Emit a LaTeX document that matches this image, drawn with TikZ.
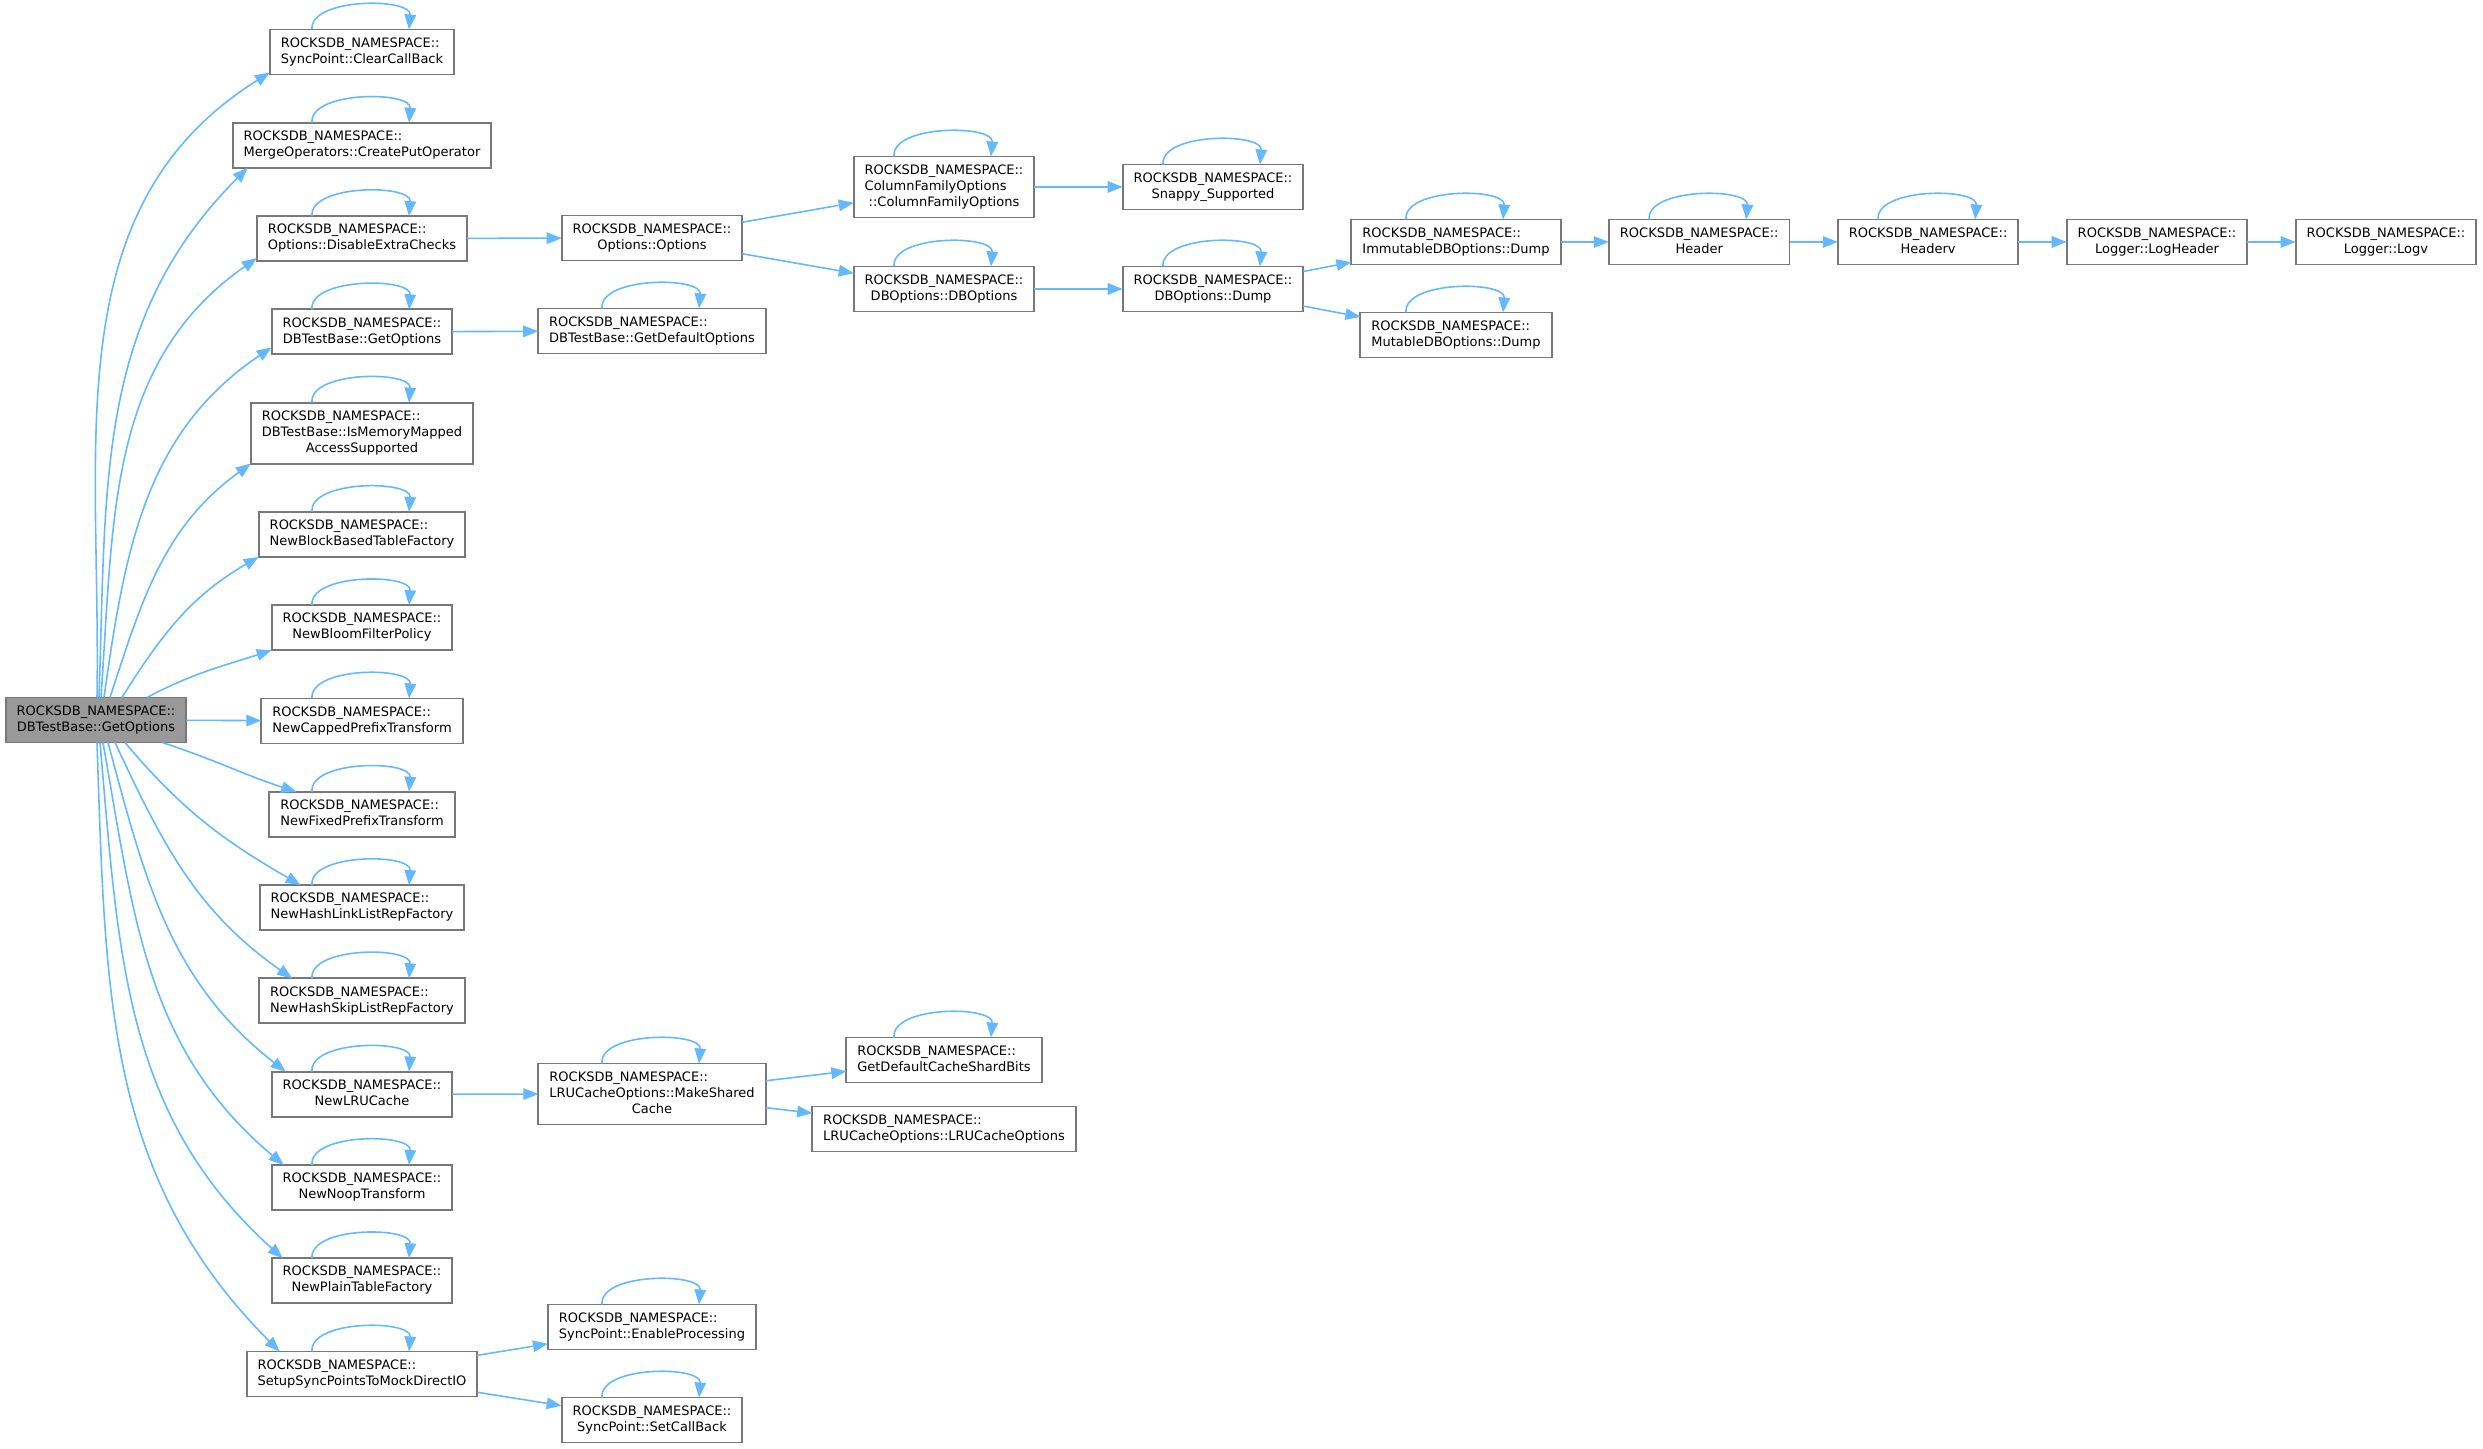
\documentclass[tikz,border=0pt]{standalone}
\usepackage{fontspec}
\newfontfamily\dvsans{DejaVu Sans}
\usepackage{tikz}
\usetikzlibrary{arrows.meta, positioning}

\definecolor{edgeblue}{HTML}{63B8FF}
\definecolor{boxline}{HTML}{787878}
\definecolor{rootfill}{HTML}{999999}

% first lines left, last line centred (doxygen style label)
\newcommand{\fnlabel}[2]{\begin{tabular}{@{}l@{}}#1\\\multicolumn{1}{@{}c@{}}{#2}\end{tabular}}
\newcommand{\selfcall}[1]{\path [line] ([xshift=-5mm]#1.north) to[out=95, in=85, looseness=0.85] ([xshift=4.7mm]#1.north);}

\begin{document}
\begin{tikzpicture}[x=0.1mm, y=-0.1mm, node distance=4.83mm]
    \tikzstyle{fn} = [rectangle, draw=boxline, fill=white, line width=0.55pt, outer sep=0pt, inner xsep=1.1mm, inner ysep=1.85pt, font=\dvsans\fontsize{3.7}{4.55}\selectfont]
    \tikzstyle{fnroot} = [fn, fill=rootfill]
    \tikzstyle{line} = [draw=edgeblue, line width=0.45pt, -{Triangle[length=1.5mm, width=1.15mm]}]

    \useasboundingbox (0,0) rectangle (2483,1449);

    \node [fnroot] (root) at (96,720) {\fnlabel{ROCKSDB\_NAMESPACE::}{DBTestBase::GetOptions}};

    % direct callees
    \node [fn] (clear) at (362,52) {\fnlabel{ROCKSDB\_NAMESPACE::}{SyncPoint::ClearCallBack}};
    \node [fn, below=of clear] (cput) {\fnlabel{ROCKSDB\_NAMESPACE::}{MergeOperators::CreatePutOperator}};
    \node [fn, below=of cput] (disable) {\fnlabel{ROCKSDB\_NAMESPACE::}{Options::DisableExtraChecks}};
    \node [fn, below=of disable] (gopt) {\fnlabel{ROCKSDB\_NAMESPACE::}{DBTestBase::GetOptions}};
    \node [fn, below=of gopt] (ismem) {\fnlabel{ROCKSDB\_NAMESPACE::\\DBTestBase::IsMemoryMapped}{AccessSupported}};
    \node [fn, below=of ismem] (newblock) {\fnlabel{ROCKSDB\_NAMESPACE::}{NewBlockBasedTableFactory}};
    \node [fn, below=of newblock] (bloom) {\fnlabel{ROCKSDB\_NAMESPACE::}{NewBloomFilterPolicy}};
    \node [fn, below=of bloom] (capped) {\fnlabel{ROCKSDB\_NAMESPACE::}{NewCappedPrefixTransform}};
    \node [fn, below=of capped] (fixed) {\fnlabel{ROCKSDB\_NAMESPACE::}{NewFixedPrefixTransform}};
    \node [fn, below=of fixed] (hlink) {\fnlabel{ROCKSDB\_NAMESPACE::}{NewHashLinkListRepFactory}};
    \node [fn, below=of hlink] (hskip) {\fnlabel{ROCKSDB\_NAMESPACE::}{NewHashSkipListRepFactory}};
    \node [fn, below=of hskip] (lru) {\fnlabel{ROCKSDB\_NAMESPACE::}{NewLRUCache}};
    \node [fn, below=of lru] (noop) {\fnlabel{ROCKSDB\_NAMESPACE::}{NewNoopTransform}};
    \node [fn, below=of noop] (plain) {\fnlabel{ROCKSDB\_NAMESPACE::}{NewPlainTableFactory}};
    \node [fn, below=of plain] (setup) {\fnlabel{ROCKSDB\_NAMESPACE::}{SetupSyncPointsToMockDirectIO}};

    % second level
    \node [fn] (options) at (652,238) {\fnlabel{ROCKSDB\_NAMESPACE::}{Options::Options}};
    \node [fn] (getdef) at (652,331) {\fnlabel{ROCKSDB\_NAMESPACE::}{DBTestBase::GetDefaultOptions}};
    \node [fn] (mkshared) at (652,1094) {\fnlabel{ROCKSDB\_NAMESPACE::\\LRUCacheOptions::MakeShared}{Cache}};
    \node [fn] (enable) at (652,1327) {\fnlabel{ROCKSDB\_NAMESPACE::}{SyncPoint::EnableProcessing}};
    \node [fn] (setcb) at (652,1420) {\fnlabel{ROCKSDB\_NAMESPACE::}{SyncPoint::SetCallBack}};

    \node [fn] (cfo) at (944,187) {\fnlabel{ROCKSDB\_NAMESPACE::\\ColumnFamilyOptions}{::ColumnFamilyOptions}};
    \node [fn] (dbo) at (944,289) {\fnlabel{ROCKSDB\_NAMESPACE::}{DBOptions::DBOptions}};
    \node [fn] (shard) at (944,1060) {\fnlabel{ROCKSDB\_NAMESPACE::}{GetDefaultCacheShardBits}};
    \node [fn] (lruopt) at (944,1129) {\fnlabel{ROCKSDB\_NAMESPACE::}{LRUCacheOptions::LRUCacheOptions}};

    \node [fn] (snappy) at (1213,187) {\fnlabel{ROCKSDB\_NAMESPACE::}{Snappy\_Supported}};
    \node [fn] (dbdump) at (1213,289) {\fnlabel{ROCKSDB\_NAMESPACE::}{DBOptions::Dump}};

    \node [fn] (immut) at (1456,242) {\fnlabel{ROCKSDB\_NAMESPACE::}{ImmutableDBOptions::Dump}};
    \node [fn] (mutable) at (1456,335) {\fnlabel{ROCKSDB\_NAMESPACE::}{MutableDBOptions::Dump}};
    \node [fn, right=of immut] (header) {\fnlabel{ROCKSDB\_NAMESPACE::}{Header}};
    \node [fn, right=of header] (headerv) {\fnlabel{ROCKSDB\_NAMESPACE::}{Headerv}};
    \node [fn, right=of headerv] (loghdr) {\fnlabel{ROCKSDB\_NAMESPACE::}{Logger::LogHeader}};
    \node [fn, right=of loghdr] (logv) {\fnlabel{ROCKSDB\_NAMESPACE::}{Logger::Logv}};

    % calls from the root
    \path [line] ([xshift=0.1mm]root.north) to[out=89, in=212] ([yshift=0.2mm]clear.south west);
    \path [line] ([xshift=0.3mm]root.north) to[out=88, in=225] ([xshift=1.5mm]cput.south west);
    \path [line] ([xshift=0.5mm]root.north) to[out=86, in=215] ([yshift=0.3mm]disable.south west);
    \path [line] ([xshift=0.8mm]root.north) to[out=82, in=214] ([yshift=0.7mm]gopt.south west);
    \path [line] ([xshift=1.4mm]root.north) to[out=72, in=216] (ismem.south west);
    \path [line] ([xshift=2.6mm]root.north) to[out=58, in=210] (newblock.south west);
    \path [line] ([xshift=5.1mm]root.north) to[out=28, in=198] (bloom.south west);
    \path [line] (root) -- (capped);
    \path [line] ([xshift=6.6mm]root.south) to[out=-18, in=162] ([xshift=2.7mm]fixed.north west);
    \path [line] ([xshift=2.9mm]root.south) to[out=-50, in=150] ([xshift=4.1mm]hlink.north west);
    \path [line] ([xshift=1.9mm]root.south) to[out=-65, in=145] ([xshift=3.3mm]hskip.north west);
    \path [line] ([xshift=1.2mm]root.south) to[out=-75, in=142] ([xshift=1.4mm]lru.north west);
    \path [line] ([xshift=0.7mm]root.south) to[out=-80, in=140] ([xshift=1.2mm]noop.north west);
    \path [line] ([xshift=0.4mm]root.south) to[out=-85, in=138] ([xshift=1.1mm]plain.north west);
    \path [line] ([xshift=0.1mm]root.south) to[out=-88, in=135] ([xshift=3.3mm]setup.north west);

    % deeper calls
    \path [line] (disable) -- (options);
    \path [line] (gopt) -- (getdef);
    \path [line] (options) -- (cfo);
    \path [line] (options) -- (dbo);
    \path [line] (cfo) -- (snappy);
    \path [line] (dbo) -- (dbdump);
    \path [line] (dbdump) -- (immut);
    \path [line] (dbdump) -- (mutable);
    \path [line] (immut) -- (header);
    \path [line] (header) -- (headerv);
    \path [line] (headerv) -- (loghdr);
    \path [line] (loghdr) -- (logv);
    \path [line] (lru) -- (mkshared);
    \path [line] (mkshared) -- (shard);
    \path [line] (mkshared) -- (lruopt);
    \path [line] (setup) -- (enable);
    \path [line] (setup) -- (setcb);

    % recursive calls
    \foreach \n in {clear, cput, disable, gopt, ismem, newblock, bloom, capped, fixed, hlink, hskip, lru, noop, plain, setup, getdef, mkshared, enable, setcb, cfo, dbo, shard, snappy, dbdump, immut, mutable, header, headerv}
        {\selfcall{\n}}
\end{tikzpicture}
\end{document}
